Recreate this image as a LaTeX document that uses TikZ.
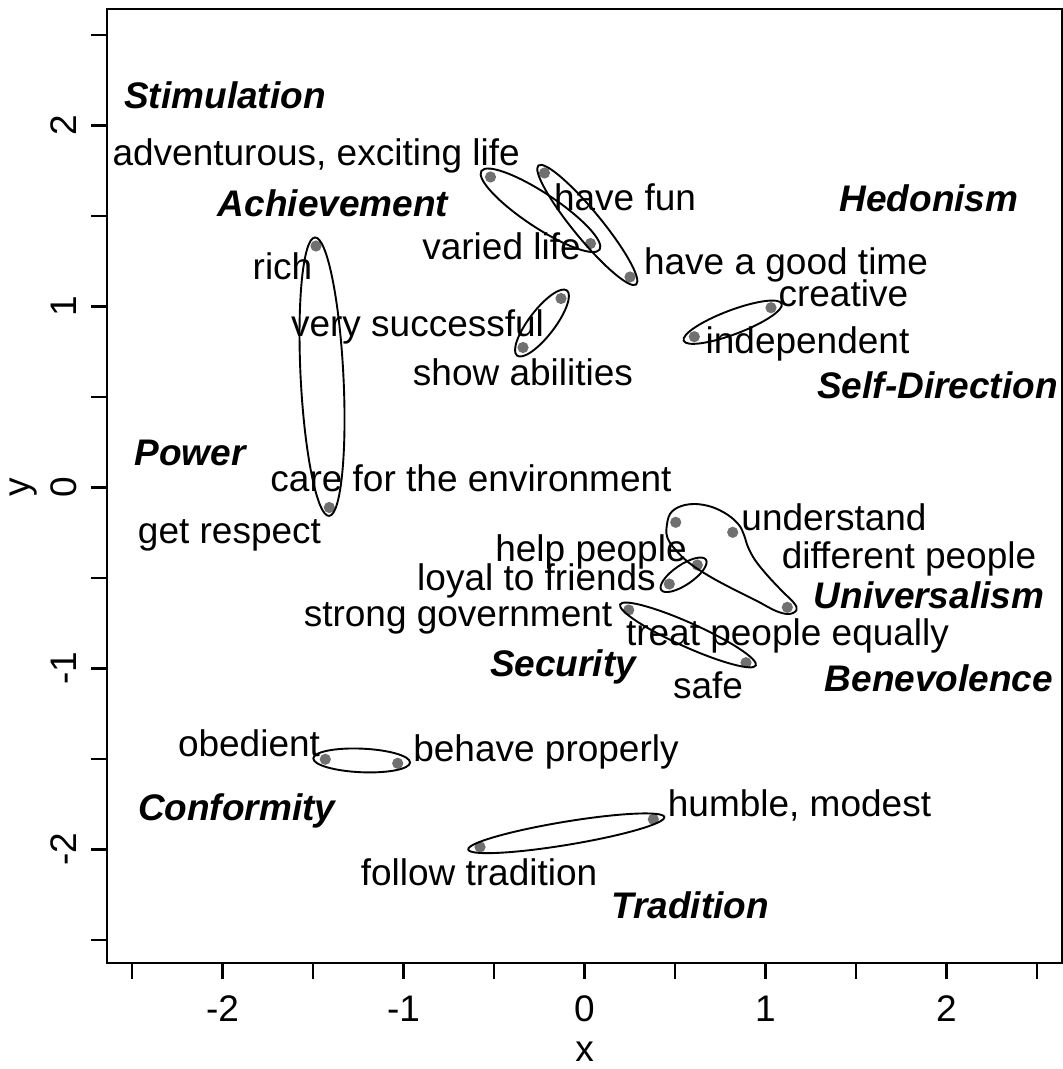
\documentclass[tikz,border=0pt]{standalone}
\usepackage{fontspec}
\setmainfont{Liberation Sans}
\usetikzlibrary{calc}
\definecolor{dotgray}{RGB}{112,112,112}

\begin{document}
\begin{tikzpicture}[x=0.5pt,y=-0.5pt,
  lbl/.style={anchor=base, inner sep=0pt, font=\fontsize{18.5}{22}\selectfont},
  cat/.style={lbl, font=\fontsize{18.5}{22}\selectfont\bfseries\itshape},
  pt/.style={circle, fill=dotgray, draw=none, minimum size=5.6pt, inner sep=0pt},
  ring/.style={draw=black, line width=0.95pt},
  axisline/.style={line width=1.4pt},
  ticklbl/.style={lbl}]

\useasboundingbox (0,0) rectangle (1063,1069);

% plot frame and ticks
\draw[axisline] (107,9) rectangle (1062,963);
\foreach \k in {-5,...,5} {
  \draw[axisline] ({584.5+90.5*\k},963) -- ++(0,16);
  \draw[axisline] (107,{487.5+90.5*\k}) -- ++(-16,0);
}

% tick labels
\node[ticklbl] (xm2) at (222.5,1021.7) {-2};
\node[ticklbl] (xm1) at (403.5,1021.7) {-1};
\node[ticklbl] (x0)  at (584.5,1021.7) {0};
\node[ticklbl] (x1)  at (765.5,1021.7) {1};
\node[ticklbl] (x2)  at (946.5,1021.7) {2};
\node[ticklbl, rotate=90] (y2)  at (76,125.5) {2};
\node[ticklbl, rotate=90] (y1)  at (76,306.5) {1};
\node[ticklbl, rotate=90] (y0)  at (76,487.5) {0};
\node[ticklbl, rotate=90] (ym1) at (76,668.5) {-1};
\node[ticklbl, rotate=90] (ym2) at (76,849.5) {-2};

% axis titles
\node[lbl] (xtitle) at (584.5,1061) {x};
\node[lbl, rotate=90] (ytitle) at (29,487.5) {y};

% points
\node[pt] (d1)  at (490.5,177) {};
\node[pt] (d2)  at (544.5,173) {};
\node[pt] (d3)  at (590.5,243.5) {};
\node[pt] (d4)  at (630,277) {};
\node[pt] (d5)  at (561,298.5) {};
\node[pt] (d6)  at (523,347.5) {};
\node[pt] (d7)  at (316,246) {};
\node[pt] (d8)  at (329.3,507.5) {};
\node[pt] (d9)  at (771,307.7) {};
\node[pt] (d10) at (694.3,336.7) {};
\node[pt] (d11) at (675.7,522.3) {};
\node[pt] (d12) at (732.7,532.3) {};
\node[pt] (d13) at (697.3,565) {};
\node[pt] (d14) at (669.3,584) {};
\node[pt] (d15) at (787.3,607.3) {};
\node[pt] (d16) at (628.7,610) {};
\node[pt] (d17) at (746,662.7) {};
\node[pt] (d18) at (325.3,759.3) {};
\node[pt] (d19) at (397.7,763.3) {};
\node[pt] (d20) at (480,847) {};
\node[pt] (d21) at (653.3,819.3) {};

% ellipse centres
\coordinate (e1c)  at (540.5,210.3);
\coordinate (e2c)  at (587.3,225);
\coordinate (e3c)  at (542,323);
\coordinate (e4c)  at (732.7,322.2);
\coordinate (e5c)  at (322,376.7);
\coordinate (e7c)  at (683.6,574.8);
\coordinate (e8c)  at (688,635);
\coordinate (e9c)  at (361.7,760.5);
\coordinate (e10c) at (566.3,833.3);

% grouping ellipses
\draw[ring, rotate around={-33.6:(e1c)}] (e1c) ellipse [x radius=35.5pt, y radius=8.5pt];
\draw[ring, rotate around={-50.6:(e2c)}] (e2c) ellipse [x radius=38.5pt, y radius=7pt];
\draw[ring, rotate around={52.6:(e3c)}] (e3c) ellipse [x radius=20.5pt, y radius=6.5pt];
\draw[ring, rotate around={20.7:(e4c)}] (e4c) ellipse [x radius=26.2pt, y radius=6pt];
\draw[ring, rotate around={-87.1:(e5c)}] (e5c) ellipse [x radius=69.7pt, y radius=10.7pt];
\draw[ring, rotate around={34.2:(e7c)}] (e7c) ellipse [x radius=13.5pt, y radius=5pt];
\draw[ring, rotate around={-24.2:(e8c)}] (e8c) ellipse [x radius=37.2pt, y radius=6pt];
\draw[ring, rotate around={-2.5:(e9c)}] (e9c) ellipse [x radius=24.2pt, y radius=5.9pt];
\draw[ring, rotate around={9.4:(e10c)}] (e10c) ellipse [x radius=49.7pt, y radius=5.8pt];

% universalism region
\draw[ring] plot[smooth cycle, tension=0.6] coordinates {
  (666.5,528) (670,514) (680,506.5) (695,504) (712,507) (728,515) (739,525)
  (744,535) (748,547) (755,560) (767,575) (782,591) (794,603) (796.5,610)
  (789,614) (776,611) (757,601) (733,589) (709,576) (688,562) (674,548) (667.5,538)};

% item labels
\node[lbl] (ladv)   at (316.2,166)   {adventurous, exciting life};
\node[lbl] (lrich)  at (282.5,280)   {rich};
\node[lbl] (lsucc)  at (417.5,336.7) {very successful};
\node[lbl] (lshow)  at (523,385)     {show abilities};
\node[lbl] (lvar)   at (501.5,260)   {varied life};
\node[lbl] (lfun)   at (625,210.5)   {have fun};
\node[lbl] (lgood)  at (786,275)     {have a good time};
\node[lbl] (lcre)   at (843.3,306.7) {creative};
\node[lbl] (lind)   at (807.5,353.3) {independent};
\node[lbl] (lcare)  at (471,491.7)   {care for the environment};
\node[lbl] (lresp)  at (229.5,543)   {get respect};
\node[lbl] (lund)   at (834,530)     {understand};
\node[lbl] (ldiff)  at (909,568.3)   {different people};
\node[lbl] (lhelp)  at (591,561.7)   {help people};
\node[lbl] (lloyal) at (536.5,590)   {loyal to friends};
\node[lbl] (lgov)   at (458,626.7)   {strong government};
\node[lbl] (ltreat) at (787.5,645)   {treat people equally};
\node[lbl] (lsafe)  at (708,698.3)   {safe};
\node[lbl] (lobed)  at (249,756.7)   {obedient};
\node[lbl] (lbeh)   at (546,761.7)   {behave properly};
\node[lbl] (lhum)   at (799.5,816.7) {humble, modest};
\node[lbl] (lfol)   at (479,885)     {follow tradition};

% value type labels
\node[cat] (cstim) at (225,108.3)   {Stimulation};
\node[cat] (cach)  at (333,216.7)   {Achievement};
\node[cat] (ched)  at (929,211.7)   {Hedonism};
\node[cat] (cself) at (937.5,398.3) {Self-Direction};
\node[cat] (cpow)  at (190,465)     {Power};
\node[cat] (cuni)  at (929,608.3)   {Universalism};
\node[cat] (csec)  at (563,676.7)   {Security};
\node[cat] (cben)  at (939,691.7)   {Benevolence};
\node[cat] (ccon)  at (236.7,820)   {Conformity};
\node[cat] (ctra)  at (690,918.3)   {Tradition};
\end{tikzpicture}
\end{document}
